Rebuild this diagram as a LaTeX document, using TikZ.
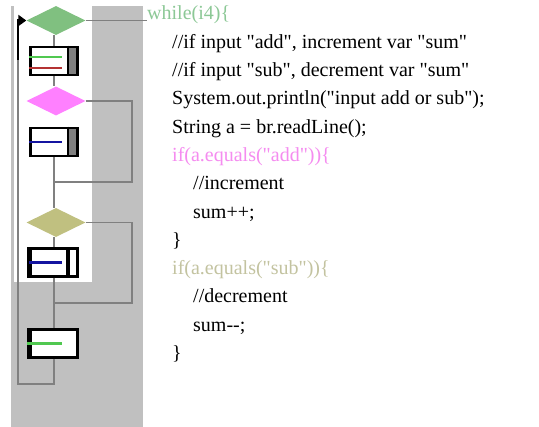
\documentclass[tikz,border=0pt]{standalone}
\usepackage{fontspec}
\setmainfont{Liberation Serif}[Ligatures=TeXOff]
\usetikzlibrary{shapes.geometric,calc,arrows.meta}
\definecolor{panel}{RGB}{192,192,192}
\definecolor{conngray}{RGB}{128,128,128}
\definecolor{boxgray}{RGB}{128,128,128}
\definecolor{dgreen}{RGB}{128,192,128}
\definecolor{dpink}{RGB}{255,128,255}
\definecolor{dolive}{RGB}{192,192,128}
\definecolor{lgreen}{RGB}{80,200,80}
\definecolor{lred}{RGB}{180,50,50}
\definecolor{lblue}{RGB}{20,20,160}
\definecolor{tgreen}{RGB}{140,200,150}
\definecolor{tpink}{RGB}{245,140,240}
\definecolor{tolive}{RGB}{195,195,160}
\begin{document}
\begin{tikzpicture}[x=1pt,y=-1pt,
  dia/.style={diamond,shape aspect=2,draw=none,minimum width=59pt,minimum height=29pt,inner sep=0pt},
  box/.style={draw=black,line width=2.8pt,fill=white,minimum width=47pt,minimum height=28pt,inner sep=0pt},
  grayright/.style={path picture={\fill[boxgray] ([xshift=-11pt]path picture bounding box.north east) rectangle (path picture bounding box.south east);}},
  conn/.style={draw=conngray,line width=1.1pt},
  code/.style={anchor=base west,inner sep=0pt,font=\fontsize{20}{28}\selectfont},
  divider/.style={line width=2.6pt,black},
  iconline/.style={line width=2.2pt}
]
\useasboundingbox (0,0) rectangle (539,427);
\fill[white] (0,0) rectangle (539,427);
\fill[panel] (11,6) rectangle (143,427);
\fill[white] (14,6) rectangle (92,282);

% text
\node[code,text=tgreen] (t0) at (147,20) {while(i4)\{};
\node[code] (t1) at (172,48.3) {//if input "add", increment var "sum"};
\node[code] (t2) at (172,76.6) {//if input "sub", decrement var "sum"};
\node[code] (t3) at (172,104.9) {System.out.println("input add or sub");};
\node[code] (t4) at (172,133.2) {String a = br.readLine();};
\node[code,text=tpink] (t5) at (172,161.5) {if(a.equals("add"))\{};
\node[code] (t6) at (193,189.8) {//increment};
\node[code] (t7) at (193,218.1) {sum++;};
\node[code] (t8) at (172,246.4) {\}};
\node[code,text=tolive] (t9) at (172,274.7) {if(a.equals("sub"))\{};
\node[code] (t10) at (193,303) {//decrement};
\node[code] (t11) at (193,331.3) {sum-{}-;};
\node[code] (t12) at (172,359.6) {\}};

% shapes
\node[dia,fill=dgreen] (d1) at (56,20.5) {};
\node[box,grayright] (b1) at (54,61) {};
\node[dia,fill=dpink] (d2) at (56,101) {};
\node[box,grayright] (b2) at (54,142) {};
\node[dia,fill=dolive] (d3) at (56,222.5) {};
\node[box] (b3) at (54,262.5) {};
\node[box] (b4) at (54,343.5) {};

\coordinate (j1) at (54,182);
\coordinate (j2) at (54,303);
\coordinate (lb) at (54,384);

% connectors
\draw[conn] (d1.east) -- (d1.east -| t0.west);
\draw[conn] (d1.south -| b1.north) -- (b1.north);
\draw[conn] (b1.south) -- (d2.north -| b1.south);
\draw[conn] (b2.south) -- (d3.north -| b2.south);
\draw[conn] (d3.south -| b3.north) -- (b3.north);
\draw[conn] (b3.south) -- (b4.north);
\draw[conn] (d2.east) -| ($(j1)+(78,0)$) -- (j1);
\draw[conn] (d3.east) -| ($(j2)+(78,0)$) -- (j2);
\draw[conn] (b4.south) -- (lb) -- (lb -| 18,0) -- (18,60);
\draw[black,line width=2pt,-{Triangle[length=8pt,width=11pt]}] (18,60) |- (d1.west);

% icon details
\draw[divider] ([xshift=-11pt]b1.north east) -- ([xshift=-11pt]b1.south east);
\draw[iconline,lgreen] ([yshift=4pt]b1.west) -- ++(33,0);
\draw[iconline,lred] ([yshift=-7pt]b1.west) -- ++(33,0);
\draw[divider] ([xshift=-11pt]b2.north east) -- ([xshift=-11pt]b2.south east);
\draw[iconline,lblue] (b2.west) -- ++(33,0);
\draw[line width=3.2pt] ([xshift=-11pt]b3.north east) -- ([xshift=-11pt]b3.south east);
\draw[line width=4pt] (b3.north west) -- (b3.south west);
\draw[iconline,lblue] (b3.west) -- ++(33,0);
\draw[line width=4pt] (b4.north west) -- (b4.south west);
\draw[iconline,lgreen] ([xshift=-2pt]b4.west) -- ++(35,0);
\end{tikzpicture}
\end{document}
